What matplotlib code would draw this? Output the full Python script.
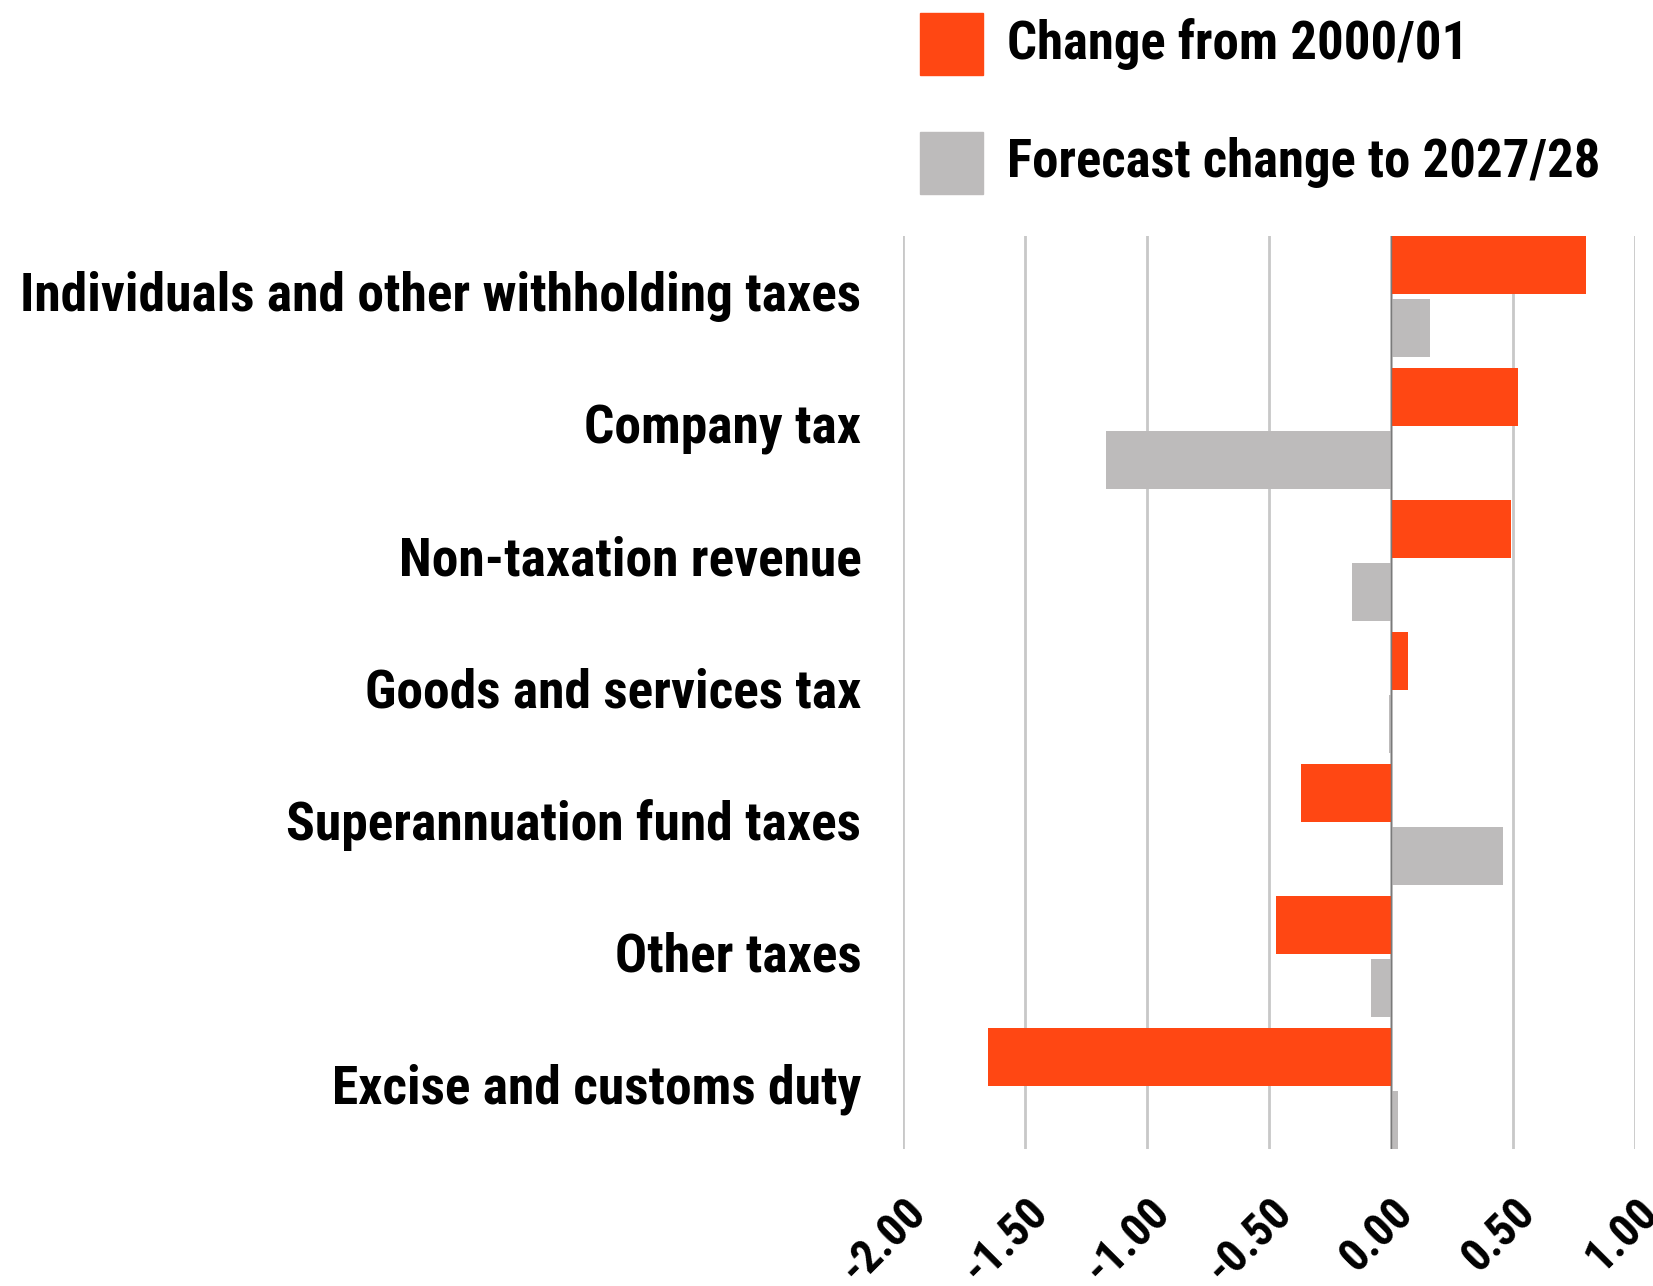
import matplotlib
matplotlib.use('Agg')
import matplotlib.pyplot as plt
import matplotlib.transforms as mtransforms
import numpy as np
from matplotlib.patches import Rectangle

# data
categories = ['Individuals and other withholding taxes', 'Company tax', 'Non-taxation revenue',
              'Goods and services tax', 'Superannuation fund taxes', 'Other taxes',
              'Excise and customs duty']
change_from_2000 = [0.80, 0.52, 0.49, 0.07, -0.37, -0.47, -1.65]
forecast_to_2028 = [0.16, -1.17, -0.16, -0.01, 0.46, -0.08, 0.03]
series_names = ['Change from 2000/01', 'Forecast change to 2027/28']
series_colors = ['#FF4713', '#BDBBBB']
xticks = [-2.0, -1.5, -1.0, -0.5, 0.0, 0.5, 1.0]

font = ['Roboto Condensed', 'DejaVu Sans']

fig = plt.figure(figsize=(16.53, 12.86), dpi=100)
ax = fig.add_axes([0.5463, 0.1065, 0.4428, 0.71])

y = np.arange(len(categories))
h = 0.44
ax.barh(y - 0.24, change_from_2000, height=h, color=series_colors[0], zorder=3)
ax.barh(y + 0.24, forecast_to_2028, height=h, color=series_colors[1], zorder=3)

ax.set_xlim(-2.0, 1.0)
ax.set_ylim(len(categories) - 0.5 - 0.04, -0.5 + 0.04)
ax.axvline(0, color='#7a7a7a', lw=1, zorder=4)

ax.set_xticks(xticks)
ax.set_xticklabels(['%.2f' % t for t in xticks], rotation=45, ha='right', va='top',
                   rotation_mode='anchor', fontsize=33, fontweight='bold', family=font)
# category labels sit a touch above the group centre in the original
ax.set_yticks(y - 0.04)
ax.set_yticklabels(categories, fontsize=38.5, fontweight='bold', family=font)
ax.tick_params(axis='y', length=0, pad=30)
ax.tick_params(axis='x', length=0, pad=29)
ax.grid(axis='x', color='#C8C8C8', lw=2, zorder=0)
for s in ax.spines.values():
    s.set_visible(False)

# legend drawn by hand at the top right
W, H = 1653, 1286
for i, (name, col) in enumerate(zip(series_names, series_colors)):
    top = 13 + i * 119
    fig.patches.append(Rectangle((920 / W, 1 - (top + 62) / H), 63 / W, 62 / H,
                                 transform=fig.transFigure, color=col))
    fig.text(1007 / W, 1 - (top + 31) / H, name, fontsize=38, fontweight='bold',
             family=font, va='center', ha='left')

fig.savefig('out.png', dpi=100, facecolor='white')
